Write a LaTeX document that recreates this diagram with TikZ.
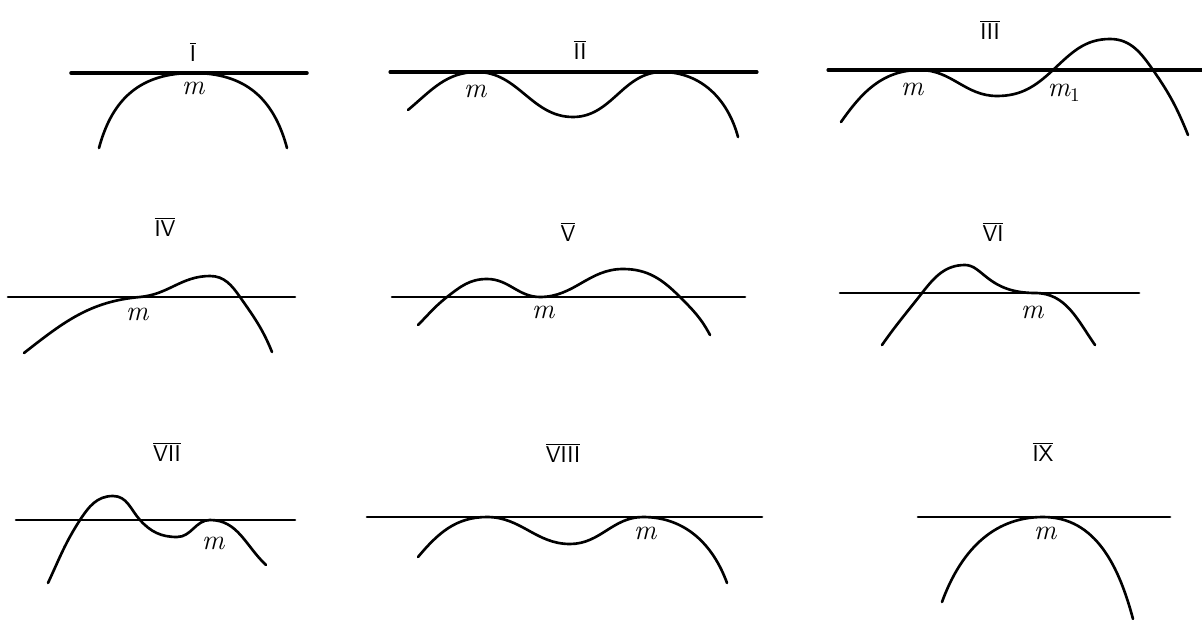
\documentclass[tikz,border=0pt]{standalone}
\begin{document}
\begin{tikzpicture}[x=0.02cm,y=0.02cm,
  curve/.style={line width=1.5pt,line cap=round,line join=round},
  tline/.style={line width=1.5pt,line cap=round},
  num/.style={font=\fontsize{13}{15}\selectfont\sffamily,inner sep=0pt},
  mlab/.style={font=\fontsize{16}{18}\selectfont\itshape,inner sep=0pt}]
\path[use as bounding box] (0,0) rectangle (1202,619);
% I
\draw[tline,line width=2pt] (71,546) -- (307,546);
\draw[curve] (99,471) to[out=75,in=180,looseness=1.1] (193,546) to[out=0,in=105,looseness=1.1] (287,471);
\node[num] (l1) at (193,567) {$\overline{\mbox{\sffamily I}}$};
\node[mlab] (m1) at (193,531) {m};
% II
\draw[tline,line width=1.8pt] (390,547) -- (757,547);
\draw[curve] (408,509) to[out=40,in=180] (477,547) to[out=0,in=180] (573,502) to[out=0,in=180] (662,547) to[out=0,in=105] (738,482);
\node[num] (l2) at (580,569) {$\overline{\mbox{\sffamily II}}$};
\node[mlab] (m2) at (475,528) {m};
% III
\draw[tline,line width=1.8pt] (828,549) -- (1202,549);
\draw[curve] (841,497) to[out=55,in=180] (920,549) to[out=0,in=180] (997,523) to[out=0,in=223] (1053,549) to[out=43,in=180] (1110,580) to[out=0,in=125] (1153,549) to[out=-55,in=112] (1188,484);
\node[num] (l3) at (990,589) {$\overline{\mbox{\sffamily III}}$};
\node[mlab] (m3) at (912,530) {m};
\node[mlab] (m31) at (1064,526) {m$_1$};
% IV
\draw[tline] (8,322) -- (295,322);
\draw[curve] (24,266) to[out=38,in=185] (140,322) to[out=5,in=180] (210,343) to[out=0,in=125] (240,322) to[out=-55,in=112] (272,267);
\node[num] (l4) at (165,392) {$\overline{\mbox{\sffamily IV}}$};
\node[mlab] (m4) at (137,305) {m};
% V
\draw[tline] (392,322) -- (745,322);
\draw[curve] (418,294) to[out=45,in=218] (447,322) to[out=38,in=180] (487,340) to[out=0,in=180] (540,322) to[out=0,in=180] (623,350) to[out=0,in=135] (680,322) to[out=-45,in=118] (710,284);
\node[num] (l5) at (568,387) {$\overline{\mbox{\sffamily V}}$};
\node[mlab] (m5) at (543,307) {m};
% VI
\draw[tline] (840,326) -- (1139,326);
\draw[curve] (882,274) to[out=55,in=232] (922,326) to[out=52,in=180] (965,354) to[out=0,in=180,out looseness=0.6,in looseness=1.6] (1035,326) to[out=0,in=125] (1095,274);
\node[num] (l6) at (993,387) {$\overline{\mbox{\sffamily VI}}$};
\node[mlab] (m6) at (1032,307) {m};
% VII
\draw[tline] (16,99) -- (295,99);
\draw[curve] (48,36) to[out=65,in=237] (80,99) to[out=57,in=180] (113,123) to[out=0,in=132] (140,99) to[out=-48,in=180] (177,82) to[out=0,in=180] (210,99) to[out=0,in=137] (266,54);
\node[num] (l7) at (167,167) {$\overline{\mbox{\sffamily VII}}$};
\node[mlab] (m7) at (213,76) {m};
% VIII
\draw[tline] (367,102) -- (762,102);
\draw[curve] (418,62) to[out=50,in=180] (487,102) to[out=0,in=180] (570,75) to[out=0,in=180] (643,102) to[out=0,in=110] (727,36);
\node[num] (l8) at (563,166) {$\overline{\mbox{\sffamily VIII}}$};
\node[mlab] (m8) at (645,86) {m};
% IX
\draw[tline] (918,102) -- (1170,102);
\draw[curve] (942,17) to[out=70,in=180] (1043,102) to[out=0,in=105] (1133,0);
\node[num] (l9) at (1043,167) {$\overline{\mbox{\sffamily IX}}$};
\node[mlab] (m9) at (1045,86) {m};
\end{tikzpicture}
\end{document}
